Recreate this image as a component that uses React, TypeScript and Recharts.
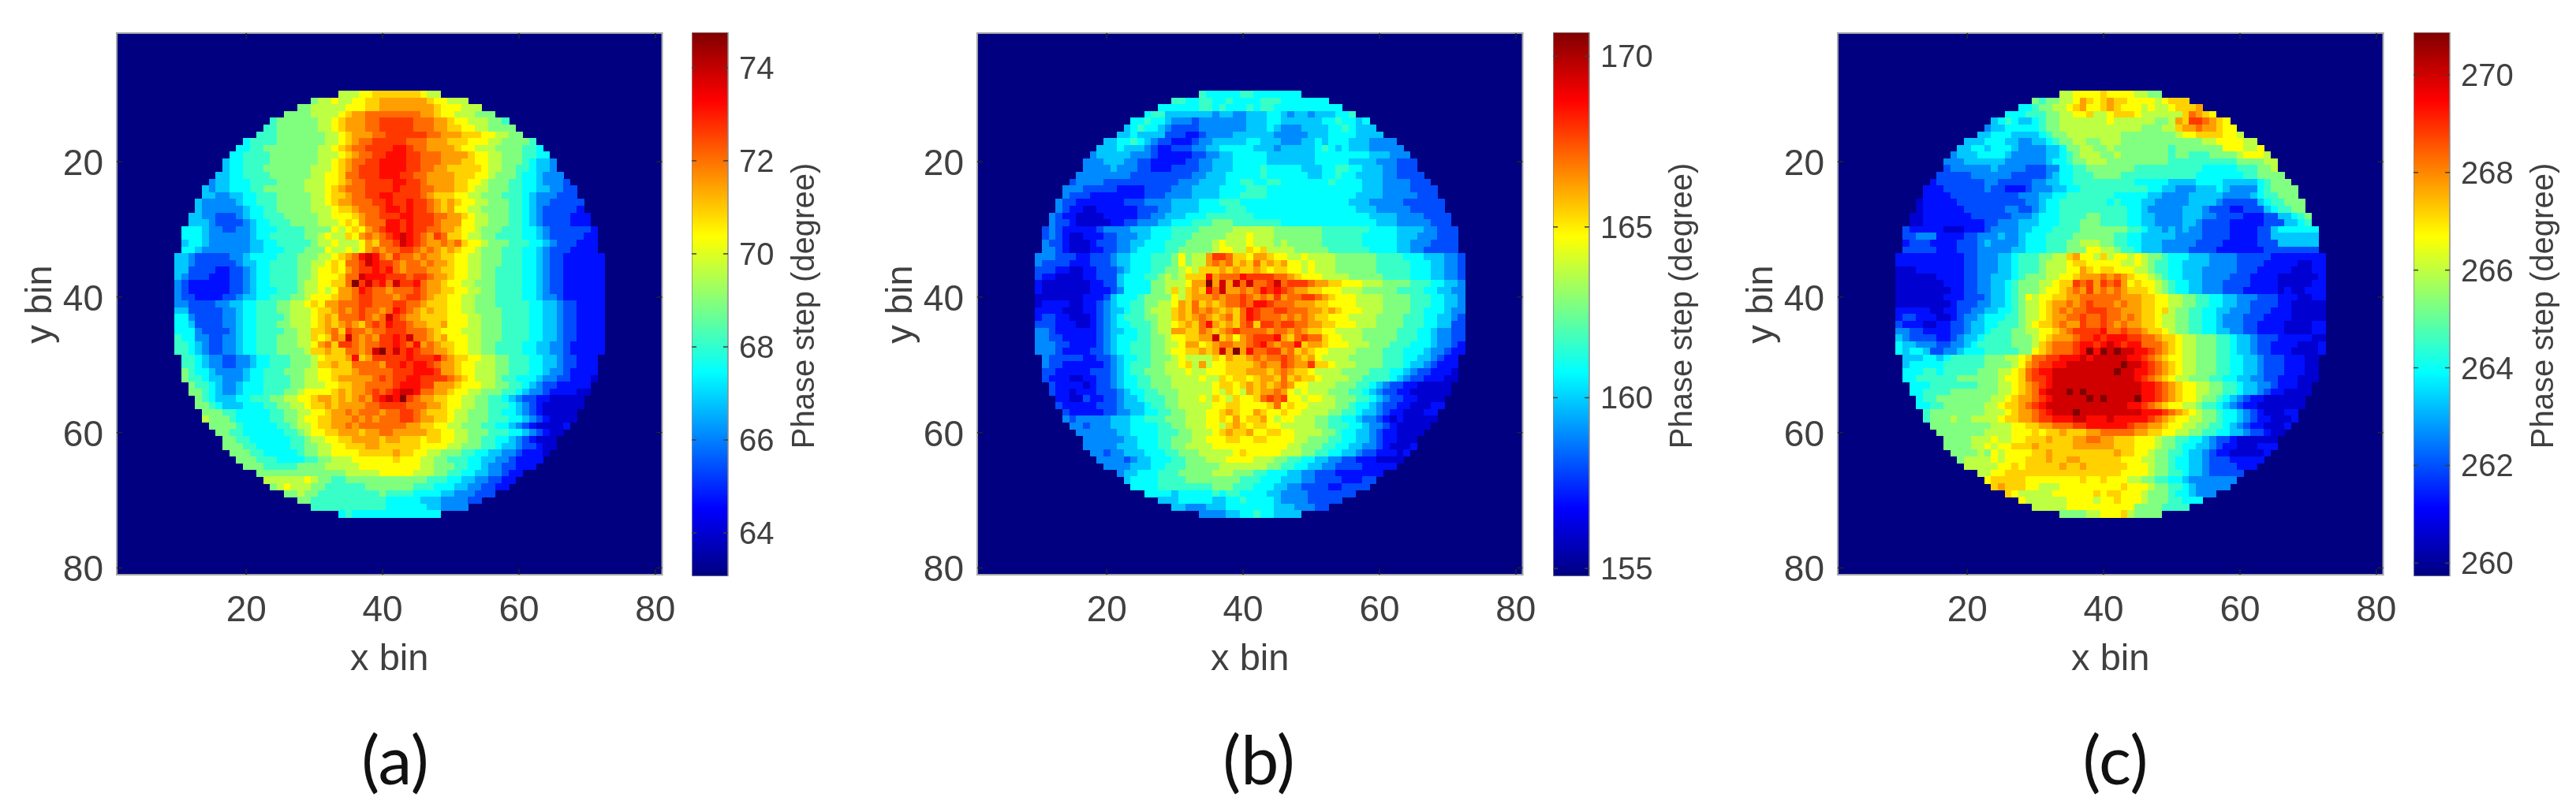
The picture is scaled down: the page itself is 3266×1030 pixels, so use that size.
import { Bar, BarChart, CartesianGrid, ReferenceArea, Scatter, ScatterChart, XAxis, YAxis } from "recharts";

// circle of valid bins, one entry per row (rows 10 to 72)
const firstRow = 10;
const rowStarts = [34, 30, 28, 26, 24, 23, 22, 20, 19, 18, 17, 17, 16, 15, 14, 14, 13, 13, 12, 12, 11, 11, 11, 11, 10, 10, 10, 10, 10, 10, 10, 10, 10, 10, 10, 10, 10, 10, 10, 11, 11, 11, 11, 12, 12, 13, 13, 14, 14, 15, 16, 17, 17, 18, 19, 20, 22, 23, 24, 26, 28, 30, 34];
const rowEnds = [48, 52, 54, 56, 58, 59, 60, 62, 63, 64, 65, 65, 66, 67, 68, 68, 69, 69, 70, 70, 71, 71, 71, 71, 72, 72, 72, 72, 72, 72, 72, 72, 72, 72, 72, 72, 72, 72, 72, 71, 71, 71, 71, 70, 70, 69, 69, 68, 68, 67, 66, 65, 65, 64, 63, 62, 60, 59, 58, 56, 54, 52, 48];

const levelCodes = "123456789abcdefgh";
const levelFractions = [0.08, 0.14, 0.2, 0.26, 0.32, 0.375, 0.43, 0.5, 0.56, 0.625, 0.67, 0.72, 0.77, 0.82, 0.865, 0.92, 1];

const panelARows = [
  "999aabbbbbbba99",
  "899a99aabbcccccccbaa999",
  "8899999aaabbccccccccbaaa999",
  "88889999abccddddddddccbaa999888",
  "788888899abcccddeeeeedddccbaa999887",
  "7788888899abcccddeeeeedddccbbaa998888",
  "777888888899abcccddeeeeeeddcccbbbaa9988",
  "67777 88888 8899a bcdde eeeed ddccc bbbaa a9988 887",
  "66778 88888 8899a bcdde eeeff eddcc ccbaa 99988 88776",
  "66777 78888 88899 9abcd deeff feedd dcccc baa99 88877 66",
  "56677 77888 88889 9abcd deeff ffeed ddccc bbaa9 98887 6554",
  "56677 78888 88899 9abcd eeeff ffeed dccbb bbba9 98877 6554",
  "55667 77788 88889 9aabd deeef ffeed dcccc bbbaa 98887 66544 4",
  "45566 67777 88889 99aab cddee eeffe edccc cbbaa 98887 76654 443",
  "54556 66778 88888 999ab cddde eeefe eeddc ccbba 99888 77665 54433",
  "55445 56677 78888 899ab bcdde effee eedcb bbaa9 98887 77654 44333",
  "54444 45667 77888 8899a bccdd deefe efeed cbcba a9988 87765 44333 33",
  "54444 44566 77888 88999 abbcd ddeff efeed cbcaa 99888 87765 43333 32",
  "55443 33456 67778 88889 9aaab cddee effee eddcc ba998 88776 54333 3222",
  "55543 33345 66777 88889 99aba cdddf fefee edccc aa998 88776 54333 3222",
  "66654 43344 56667 77788 88a9a bacde ffefe eddcc baa98 88777 66543 33333 2",
  "66654 44444 56677 77788 9a99b acdcd efgfe dcedb ba998 87777 66543 33332 2",
  "56654 44444 55667 77778 99a99 9acbd degfe dccdc dbaa9 88877 76654 33322 2",
  "66544 44444 55666 77788 8a99a 9acdc ddeed cdcbc baa98 88777 66543 33222 2",
  "55433 33344 56666 77788 899ab cdfgf dcedd cdccb baa99 88877 76654 33222 222",
  "55433 33334 55667 77788 99aba ddegf eedcd dcdcc baa99 88877 76654 33222 222",
  "55333 32233 45667 77788 9aaba cdeef efdcd ddccb baa99 88777 76654 33222 222",
  "54333 22233 45667 77788 9aaab ddgff feeed eedcc baa99 88777 76654 33222 222",
  "43222 22233 45667 77789 9aabb dhege fdgee fdccb aa998 88777 76654 33222 222",
  "43222 22233 45666 77789 9a9ac cdfed dcddd edccb baa99 88777 76654 33222 222",
  "43322 22334 55667 77889 aaabc cdeed ddcde edcbb aa998 88777 76654 43222 222",
  "44333 34455 66777 8899a baccd ddeed ddeed dcbbb aa998 88777 77665 54332 222",
  "55333 33445 66777 88999 abbcd cdedd cdfed cbcbb aa998 88877 77665 54332 222",
  "66433 33445 66777 78999 abcbd ddedc dgedc cbbbb aaa99 88877 77665 54332 222",
  "66533 33445 66777 88999 abcbc dcbde dfeed ccbbc aaa99 88877 77665 54332 222",
  "66643 33345 66777 78899 bbcdb eddcd deeed ddcba aa999 88877 77665 54332 222",
  "76644 33445 66777 88899 babdc gdcdc eefeg ddcbc aaa99 88877 77665 54332 222",
  "77654 33445 66777 88899 acdbe edcdd eefed fcdcb baa99 88777 76655 44322 222",
  "77654 33445 66777 88889 bbcbb ddcdg hegef eddcc baa99 88777 76655 44322 222",
  "77654 43344 56677 78889 abbbc fbcee eeefe eefdc bbaa9 98877 76655 43322 2",
  "77654 43344 56677 78889 bbcbb ddddc eefef fedcc baa99 98877 76655 43322 2",
  "87665 44445 66777 88899 aabbb cdddd deeef ffecc baa99 98877 76654 43222 2",
  "87765 54445 66777 78899 aabcc cccde deeff eeeed cba99 98776 66544 33222 1",
  "87765 44566 67777 88999 aabbc cdddd efffe ecccb aaa99 88776 54332 2222",
  "88765 44566 67778 89aaa abcbc cdede fggfd dccba a9988 87765 44322 2211",
  "87655 56677 78899 aabcc bcbcd cefgf hedcc bbaa9 98877 65433 22111 11",
  "88765 55666 77889 9abbc bcccc ddeee edddc cbaa9 98877 76543 21111 11",
  "88877 66666 77889 9aabc cdcdd dcdde edcbb ba998 88776 65432 11111",
  "98887 66666 77889 aabbc ccdcd cddde edccb ba998 88777 66543 21111",
  "88887 66666 77899 abbcc dcddd ddddc cbbaa 99888 77665 43211 112",
  "88776 66666 7789a abbcc cbccd dcccc cbbaa 99888 77766 54321 1",
  "88776 66666 77899 aabbc cccbc cbbba bbaa9 98877 66543 2111",
  "88877 66666 77889 9aabb bccbb bbbba aaa99 88877 65543 3211",
  "88877 66666 78899 aaaab bbbbc bbaa9 98887 76655 44322 21",
  "88877 76666 77889 99aaa aaaba aa998 87776 65544 32222",
  "88877 77788 88999 99aaa aaaaa a9988 87766 54433 222",
  "88888 88888 88899 999aa aaa99 98877 66554 4322",
  "99999 9a988 77888 88888 88887 77665 54433 22",
  "89a99 98877 77778 88888 87776 66554 43322",
  "88988 77777 77778 77776 66655 44433 3",
  "88777 77777 77766 66655 54444 33",
  "77777 77777 76666 66554 444",
  "67666 66666 66666",
];

const panelBRows = [
  "76666 67766 66666",
  "77667 76676 66677 76666 666",
  "66666 67767 66676 77666 66666 66",
  "67755 55555 45544 55566 54554 55566 7",
  "66766 54443 44444 44555 66555 55566 76656",
  "56766 54333 34444 44455 56544 45555 66765 55",
  "55655 55333 22344 44555 55544 44455 56666 5555",
  "55667 65433 22234 45555 56655 54445 56566 65554 444",
  "55565 55432 23334 45566 66655 54555 55676 56555 44444",
  "45555 54443 22222 33445 56666 65555 55566 66666 65554 44",
  "44455 54433 22222 33445 55666 66555 55556 66665 55544 4333",
  "44445 44433 22233 33445 55666 67666 66555 66776 65554 4333",
  "44444 44433 33333 33445 55666 66766 66665 56676 65555 44333 3",
  "34444 33333 33333 34445 55566 77667 76666 66676 66655 54444 333",
  "44433 33322 22333 34445 55566 66777 66666 66666 66665 55444 43333",
  "43332 22222 22333 44445 55566 67777 66666 66666 66655 55444 44333",
  "43322 22222 33344 44555 56667 77666 66666 66666 66655 54444 43333 33",
  "43221 12222 22333 44555 56666 77766 66666 66666 66665 55444 44333 33",
  "43221 11122 22233 44555 66677 77777 66666 66666 66666 66555 54444 3333",
  "43321 11112 23344 45566 67778 88777 77776 66666 66666 66655 54444 4333",
  "34322 22234 44455 56667 77788 88899 99998 88888 87777 77766 66555 54433 3",
  "34321 12223 34445 56667 77888 88999 a9998 88888 87777 77666 66555 44433 3",
  "43321 11233 34455 66677 78888 9a999 a9998 98888 87777 77666 66554 44333 3",
  "44321 11223 34456 66677 88888 9aa99 bab99 99888 88777 77766 66554 43333 3",
  "44433 32233 34556 66777 8a899 ceedb baccb aa99a 99998 88888 77776 66555 443",
  "43333 22233 34556 66777 8a899 cdcdb cbdbc bcaa9 a9998 88888 77777 66655 443",
  "33322 11223 33456 66778 89a9b bbcbc bbcba bbaa9 a9998 88888 77777 66655 443",
  "32211 11223 33566 67789 89bbb fcddd feeee ddcba aa999 98888 87777 66655 443",
  "21111 11122 33566 66889 99acc hcgcg dgdde gdeee dccbb aaa99 98888 77766 554",
  "21111 11122 23466 66889 b9bcb fdgcc dcdfe fedcc bbaaa 99988 88877 77665 544",
  "11111 11222 35666 78888 a9bcc cdcdd edcdc ecdde edcba aa999 98888 77766 554",
  "12222 11223 45667 78899 acbdb cbcdd edffe dddcc cbbaa aa999 98888 77766 554",
  "22221 11223 45567 78999 bcbdc dcbcb dfedd eeddd ccbcb aaa99 98888 77666 544",
  "23322 11123 45677 78899 bcbcd cbcdb dfedd dcdcd cbbaa a9999 88887 77665 543",
  "33322 21123 45667 77899 abcbd fcbcb debee deedd ccbba aa999 88887 77665 533",
  "44322 22223 45566 77899 ccbbd cbcde ddddc ddcdc bbaa9 99988 88877 76654 433",
  "44332 22223 45666 77889 aabbc cgbca cdeee fcbde ddbaa 99988 88877 76654 433",
  "44433 22223 45667 77889 9acca bcddc cdefd cddfb ccbaa a9998 88777 66654 432",
  "44432 22233 45667 77889 aabbc bcgch cfdde ecdbc baa99 99888 87776 66544 322",
  "43333 32233 45667 78889 a9999 bacbb cdcdd edcbc a9999 88888 77766 55432 2",
  "43322 22223 45677 78899 ab9c9 aabbb bcdcc edcce bba99 98888 77765 54322 2",
  "33222 22333 45677 88899 9a99a aabbb cccbc dcbba 99998 88877 76654 33222 1",
  "32221 12233 45667 78889 999a9 9babb abccb dbcbb a9999 88777 76543 32221 1",
  "32222 12334 56677 88899 9999a bbabc bcbcd caa99 99888 77654 33221 1111",
  "32212 22333 45667 78889 9999a 9ba9c bccdc a9a99 98887 76543 32211 1111",
  "22113 22334 55677 78899 9a9ba 9baab dedea a9aa9 98887 76543 32211 11",
  "32222 23334 55567 78899 999aa bbaaa abdab aa999 98876 65433 22111 22",
  "32222 23344 55667 78899 9aabc baacb aabaa 99998 87765 54322 11122",
  "43444 44555 66777 88899 9aaba cabbc a9aa9 99887 76654 43212 11111",
  "44344 45556 66677 88999 aa9bc babba a9999 98877 76654 43211 111",
  "44444 45566 66777 88999 abcbb caabb aa999 98876 65543 22111 1",
  "44444 45566 67788 899aa abbaa bbaaa a9988 87766 55432 2111",
  "44444 55566 67788 9999a aaaaa aaaaa 99888 77665 54432 1112",
  "44344 55566 67788 89999 9abaa aaa99 98877 66554 33222 12",
  "44443 45566 67788 8999a aaa99 98877 66554 43322 21111",
  "44445 55667 77888 88999 99998 87766 55443 33322 222",
  "45566 67778 88889 99888 77666 55443 33222 2222",
  "56666 77778 88888 88777 66655 54433 33222 33",
  "66667 77777 77888 77766 65544 33332 23333",
  "66665 66666 76776 66655 44443 33333 3",
  "55566 66655 66766 66544 44333 33",
  "55444 55566 66666 55544 433",
  "44445 56676 65555",
];

const panelCRows = [
  "99aaa abaaa a9988",
  "87889 9acba bcbba aaa9a bbb",
  "66788 99abc aabcb aaa9a 99abb bc",
  "66677 78899 aab99 abbba 99999 9bdcb a",
  "56765 56788 99999 99a99 99998 89cbe edcba",
  "45566 66678 89999 99999 99988 899bc cdccb aa",
  "55666 55556 78899 99999 98888 88889 aabbb baa9",
  "55566 65544 55678 89988 99988 88888 88888 99aaa a99",
  "55665 66654 44455 68899 88988 88888 87888 8888a aa99a",
  "45556 66654 44445 56789 99889 88888 88788 77788 889aa a9",
  "44455 55554 44444 56678 89998 88888 88877 77777 77788 8899",
  "34444 44544 44333 44667 78888 88877 77777 77766 66677 7889",
  "33333 44444 43333 34566 77788 88777 77777 77766 66666 77888 8",
  "23333 33344 33333 44556 67777 77777 66666 55556 66655 55567 888",
  "22233 33334 33222 34445 56677 77777 77766 55444 55565 44446 78888",
  "22223 33333 33334 44556 67777 77766 66655 44445 55554 44456 77888",
  "12222 23333 33333 34456 67777 77767 66655 44444 55554 33333 56778 88",
  "12222 22333 33344 33456 67777 77777 76654 44445 55433 32233 35677 88",
  "11222 22223 33333 44456 66777 78877 77665 54444 55544 33332 22335 5678",
  "11222 22222 23344 45556 66777 88877 77665 54444 55433 33222 22333 5567",
  "32222 21112 22344 44556 66777 78888 88877 65545 45443 33322 22335 6",
  "33444 22223 34445 44566 67777 88888 87766 55555 44443 33322 22335 5",
  "23332 22233 34544 44566 67778 89998 87766 55544 44433 33222 22333 5",
  "33333 22233 34444 45566 67778 88aa9 98776 55544 44333 32222 22233 3",
  "22222 22222 33444 55677 78899 bcaa9 b9aa9 a9887 66655 54444 33333 22222 222",
  "22222 22222 33444 55677 78999 abbaa aaa99 a9877 66555 54444 33332 22221 122",
  "11122 22222 33444 55677 78999 aacba bbaaa 99877 66555 44444 33322 22211 122",
  "11111 12222 33445 55678 8899a abccc dcdcb aa987 66555 44443 33222 21111 112",
  "11111 11222 33445 56788 899ab bedec edeca baa98 76655 44433 33222 21111 122",
  "11111 11122 33445 56788 89aab cdcec dcdcb bba98 76655 44433 32222 21211 222",
  "11111 11222 33345 5678a 9aabb ccddd dddcc cbbaa 99887 76655 44433 32221 122",
  "11111 11123 33445 56789 9abcc dcded ddcdc cbbaa 99887 76655 44333 32211 111",
  "22222 11223 34455 66789 9abcd cddee eddcc cbbab 98877 66554 44333 22211 111",
  "23322 21123 44566 67789 9abcc ddedd eddcd cbba9 98877 66544 43332 22211 111",
  "32221 12233 45566 77789 abbcd ccedd edcdc cbba9 98877 66544 43322 22111 122",
  "44332 22233 45567 77889 9aabc deeee fdded dcbba 98877 66554 43322 22111 122",
  "54333 32234 55677 77888 9abcc cdeef efffe eddcb ba998 88776 55433 32222 211",
  "65544 43344 56777 77888 9bcdd deffe fgfef fdddc ba998 88776 55433 22221 112",
  "65665 33445 66677 77788 abcdd defhf hghgg ffedc ba998 88776 55433 22211 112",
  "55566 56777 77888 99abd deeff fgfgg gggff edcba a9988 87766 55433 32221 1",
  "56666 67777 77888 89acd eeffg ggggg gghgg fedcb a9988 87766 55433 32221 1",
  "66677 67777 78889 9abde ffggg ggggg ghggf fedcb a9988 87766 55433 32221 1",
  "66777 77788 88889 aabde efggg ggggg ggggf edcba 99888 77665 54433 22211 1",
  "66677 77777 88899 abcde fgggg ggggg ggggf fedcb aa998 87765 54432 2211",
  "66777 78888 88899 abcdf ggghg hgggg ggggf fedcb aa998 87765 54322 1111",
  "67788 88888 899ab ccdef ggggg hghgg gghff edcba a9887 65432 21111 11",
  "66778 88888 99abb cdefg ggggg ggggg gffed cbaa9 98776 54322 11111 11",
  "78888 88889 99abc cdefg gghgg ggggg ggfff edcba 98876 65432 11122",
  "78889 88999 9abbc cdeef ffggf ffgff fffed cbaa9 98876 65432 21112",
  "88888 88889 99aab bccdd deeff ffffe ddccb aa998 87765 43221 112",
  "88888 88999 9aaab abbcb bbccd ddddc cbbaa 99887 76655 43321 1",
  "88889 99a99 aabbb cbbbc cddcc bbbaa a9887 76654 33211 1111",
  "88889 9a9aa bbbcb bbbbc ccccc bbbaa a9887 66554 32211 1222",
  "88889 8a9aa aabbc bbbbb bbbbc bbaa9 88776 55432 21111 12",
  "89999 a9aaa bbbcb bccbb bbbba aa998 87665 54333 22222",
  "99999 aabab bbbbc bbcbb bbbba aa988 76655 43333 222",
  "99aab bbbbb bbbbb bbbbb baaaa 98877 65543 3333",
  "abbbb baaaa aaaab aabaa a9988 77665 44444 44",
  "bcbbb aa999 aaaaa aaaab aaa98 87765 44444",
  "ba999 99aaa aaaba bbaaa 98887 66544 4",
  "a9999 99aaa a9aab aaa98 88776 66",
  "99999 aaaaa aaaaa 88887 777",
  "88889 9aaab 98888",
];

const axisTicks = [20, 40, 60, 80];
const panelATicks = [64, 66, 68, 70, 72, 74];
const panelBTicks = [155, 160, 165, 170];
const panelCTicks = [260, 262, 264, 266, 268, 270];

const jetStops = [
  { at: 0, color: "#000080" },
  { at: 0.125, color: "#0000ff" },
  { at: 0.375, color: "#00ffff" },
  { at: 0.625, color: "#ffff00" },
  { at: 0.875, color: "#ff0000" },
  { at: 1, color: "#800000" },
];

function jet(t: number) {
  const ch = (v: number) => Math.round(255 * Math.max(0, Math.min(1, v)));
  const r = Math.min(4 * t - 1.5, -4 * t + 4.5);
  const g = Math.min(4 * t - 0.5, -4 * t + 3.5);
  const b = Math.min(4 * t + 0.5, -4 * t + 2.5);
  return `rgb(${ch(r)},${ch(g)},${ch(b)})`;
}

function toCells(rows: string[], lo: number, hi: number) {
  const cells: Array<{ x: number; y: number; value: number }> = [];
  rows.forEach((raw, i) => {
    const row = raw.replace(/ /g, "");
    for (let x = rowStarts[i]; x <= rowEnds[i]; x++) {
      const code = row[Math.min(x - rowStarts[i], row.length - 1)];
      const frac = levelFractions[levelCodes.indexOf(code)];
      cells.push({ x, y: firstRow + i, value: lo + frac * (hi - lo) });
    }
  });
  return cells;
}

const TEXT = "#404040";
const FONT = "'Liberation Sans', Arial, sans-serif";
const AXIS_W = 140;
const BOX_W = 691.5;
const TOP = 42;
const BOTTOM = 729;
const CHART_H = 880;

function HeatPanel({ id, rows, lo, hi, left }: { id: string; rows: string[]; lo: number; hi: number; left: number }) {
  const cells = toCells(rows, lo, hi);
  const cw = BOX_W / 80;
  const ch = (BOTTOM - TOP) / 80;
  return (
    <div style={{ position: "absolute", left: left - AXIS_W, top: 0 }}>
      <ScatterChart width={AXIS_W + BOX_W + 40} height={CHART_H} margin={{ top: TOP, right: 40, bottom: 0, left: 0 }}>
        <CartesianGrid fill="#000080" horizontal={false} vertical={false} />
        <Scatter
          name={id}
          data={cells}
          isAnimationActive={false}
          shape={(p: any) => (
            <rect
              x={p.cx - cw / 2}
              y={p.cy - ch / 2}
              width={cw + 0.5}
              height={ch + 0.5}
              fill={jet((p.payload.value - lo) / (hi - lo))}
              shapeRendering="crispEdges"
            />
          )}
        />
        <XAxis
          type="number"
          dataKey="x"
          domain={[1, 81]}
          ticks={axisTicks}
          height={CHART_H - BOTTOM}
          allowDataOverflow
          axisLine={false}
          tickLine={false}
          tick={(p: any) => (
            <g>
              <line x1={p.x} x2={p.x} y1={BOTTOM - 7} y2={BOTTOM} stroke="#262626" strokeWidth={1.5} />
              <line x1={p.x} x2={p.x} y1={TOP} y2={TOP + 7} stroke="#262626" strokeWidth={1.5} />
              <text x={p.x} y={788} textAnchor="middle" fontFamily={FONT} fontSize={46} fill={TEXT}>
                {p.payload.value}
              </text>
            </g>
          )}
        />
        <YAxis
          type="number"
          dataKey="y"
          domain={[1, 81]}
          ticks={axisTicks}
          width={AXIS_W}
          reversed
          allowDataOverflow
          axisLine={false}
          tickLine={false}
          tick={(p: any) => (
            <g>
              <line x1={AXIS_W} x2={AXIS_W + 7} y1={p.y} y2={p.y} stroke="#262626" strokeWidth={1.5} />
              <line x1={AXIS_W + BOX_W - 7} x2={AXIS_W + BOX_W} y1={p.y} y2={p.y} stroke="#262626" strokeWidth={1.5} />
              <text x={AXIS_W - 17} y={p.y + 17} textAnchor="end" fontFamily={FONT} fontSize={46} fill={TEXT}>
                {p.payload.value}
              </text>
            </g>
          )}
        />
        <ReferenceArea x1={1} x2={81} y1={1} y2={81} fill="none" stroke="#a6a6a6" strokeWidth={2} />
        <text x={AXIS_W + BOX_W / 2} y={850} textAnchor="middle" fontFamily={FONT} fontSize={47} fill={TEXT}>
          x bin
        </text>
        <text transform="translate(57,386) rotate(-90)" textAnchor="middle" fontFamily={FONT} fontSize={47} fill={TEXT}>
          y bin
        </text>
      </ScatterChart>
    </div>
  );
}

function ColorBar({ id, lo, hi, ticks, left, labelOffset }: { id: string; lo: number; hi: number; ticks: number[]; left: number; labelOffset: number }) {
  const barW = 46;
  return (
    <div style={{ position: "absolute", left, top: 0 }}>
      <BarChart width={barW + 150} height={830} data={[{ name: id, range: [lo, hi] }]} margin={{ top: 41, right: 0, bottom: 99, left: 0 }} barCategoryGap={0}>
        <defs>
          <linearGradient id={`jet-${id}`} x1="0" y1="1" x2="0" y2="0">
            {jetStops.map((s) => (
              <stop key={s.at} offset={s.at} stopColor={s.color} />
            ))}
          </linearGradient>
        </defs>
        <XAxis dataKey="name" hide />
        <Bar dataKey="range" fill={`url(#jet-${id})`} stroke="#8c8c8c" strokeWidth={1.5} isAnimationActive={false} />
        <YAxis
          orientation="right"
          type="number"
          domain={[lo, hi]}
          ticks={ticks}
          width={150}
          allowDataOverflow
          axisLine={false}
          tickLine={false}
          tick={(p: any) => (
            <g>
              <line x1={barW - 6} x2={barW} y1={p.y} y2={p.y} stroke="#404040" strokeWidth={1.5} />
              <line x1={0} x2={6} y1={p.y} y2={p.y} stroke="#404040" strokeWidth={1.5} />
              <text x={barW + 14} y={p.y + 14} fontFamily={FONT} fontSize={40} fill={TEXT}>
                {p.payload.value}
              </text>
            </g>
          )}
        />
        <text transform={`translate(${barW + labelOffset},388) rotate(-90)`} textAnchor="middle" fontFamily={FONT} fontSize={40} fill={TEXT}>
          Phase step (degree)
        </text>
      </BarChart>
    </div>
  );
}

function Caption({ text, x }: { text: string; x: number }) {
  return (
    <div style={{ position: "absolute", left: x - 100, width: 200, top: 912, textAlign: "center", fontFamily: "Lato, sans-serif", fontSize: 86, lineHeight: "100px", color: "#111" }}>
      {text}
    </div>
  );
}

export default function App() {
  return (
    <div style={{ position: "absolute", left: 0, top: 0, width: 3266, height: 1030, background: "#fff", overflow: "hidden", filter: "blur(0.7px)" }}>
      <HeatPanel id="a" rows={panelARows} lo={63.07} hi={74.76} left={147.5} />
      <ColorBar id="a" lo={63.07} hi={74.76} ticks={panelATicks} left={877} labelOffset={109} />
      <Caption text="(a)" x={501} />
      <HeatPanel id="b" rows={panelBRows} lo={154.77} hi={170.7} left={1238.6} />
      <ColorBar id="b" lo={154.77} hi={170.7} ticks={panelBTicks} left={1968.5} labelOffset={130} />
      <Caption text="(b)" x={1596} />
      <HeatPanel id="c" rows={panelCRows} lo={259.73} hi={270.87} left={2330} />
      <ColorBar id="c" lo={259.73} hi={270.87} ticks={panelCTicks} left={3059.6} labelOffset={131} />
      <Caption text="(c)" x={2682} />
    </div>
  );
}
